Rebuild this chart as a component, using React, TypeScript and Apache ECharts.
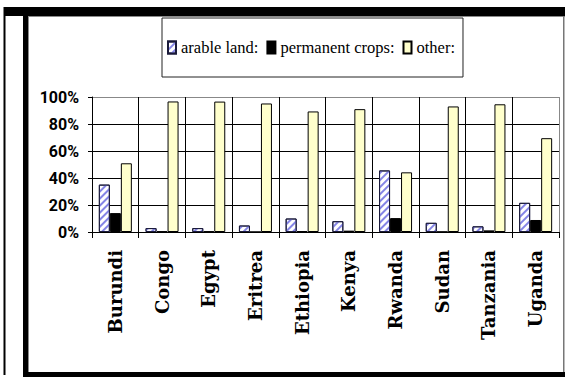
import React, { useEffect, useRef } from "react";
import * as echarts from "echarts";

// Land use shares by country (%)
const categories = ["Burundi", "Congo", "Egypt", "Eritrea", "Ethiopia", "Kenya", "Rwanda", "Sudan", "Tanzania", "Uganda"];
const arableLand = [35.1, 2.9, 2.9, 4.8, 10.0, 8.0, 45.6, 6.8, 4.2, 21.6];
const permanentCrops = [14.0, 0.5, 0.5, 0.03, 0.7, 1.0, 10.3, 0.2, 1.2, 8.9];
const otherLand = [50.9, 96.7, 96.6, 95.2, 89.3, 91.0, 44.2, 93.0, 94.6, 69.5];
const yTicks = [0, 20, 40, 60, 80, 100];

const W = 565;
const H = 377;

export default function App() {
  const ref = useRef<HTMLDivElement>(null);

  useEffect(() => {
    document.body.style.margin = "0";
    const chart = echarts.init(ref.current!, undefined, { renderer: "svg", width: W, height: H });

    const barBase = { type: "bar" as const, barWidth: 11, barGap: "0%" };

    chart.setOption({
      animation: false,
      backgroundColor: "#ffffff",
      legend: {
        left: 162,
        top: 18,
        padding: [21, 8, 21, 5],
        borderColor: "#222",
        borderWidth: 1,
        backgroundColor: "#fff",
        itemWidth: 8,
        itemHeight: 12,
        itemGap: 8,
        icon: "rect",
        textStyle: {
          fontFamily: '"Liberation Serif", "DejaVu Serif", serif',
          fontSize: 16.5,
          color: "#000",
        },
        data: ["arable land:", "permanent crops:", "other:"],
      },
      grid: { left: 92, right: 6, top: 97, bottom: 145, containLabel: false },
      xAxis: {
        type: "category",
        data: categories,
        boundaryGap: true,
        axisLine: { lineStyle: { color: "#000", width: 1 } },
        axisTick: { show: true, length: 6, lineStyle: { color: "#000" } },
        splitLine: {
          show: true,
          lineStyle: { color: ["#888", "#000", "#000", "#000", "#000", "#000", "#000", "#000", "#000", "#000", "#888"], width: 1 },
        },
        axisLabel: {
          rotate: 90,
          margin: 18,
          interval: 0,
          fontFamily: '"DejaVu Serif", "Liberation Serif", serif',
          fontWeight: "bold",
          fontSize: 18,
          color: "#000",
        },
      },
      yAxis: {
        type: "value",
        min: yTicks[0],
        max: yTicks[yTicks.length - 1],
        interval: 20,
        axisLine: { show: true, lineStyle: { color: "#000", width: 1 } },
        axisTick: { show: true, length: 4, lineStyle: { color: "#000" } },
        splitLine: {
          show: true,
          lineStyle: { color: ["#000", "#000", "#000", "#000", "#000", "#888"], width: 1 },
        },
        axisLabel: {
          margin: 13,
          formatter: "{value}%",
          fontFamily: "Roboto, sans-serif",
          fontWeight: "bold",
          fontSize: 16,
          color: "#000",
        },
      },
      series: [
        {
          ...barBase,
          name: "arable land:",
          data: arableLand,
          itemStyle: {
            color: "#ffffff",
            borderColor: "#1a1a3a",
            borderWidth: 1,
            decal: {
              symbol: "rect",
              symbolSize: 1,
              color: "#8585e6",
              dashArrayX: [1, 0],
              dashArrayY: [2, 3],
              rotation: -Math.PI / 4,
            },
          },
        },
        {
          ...barBase,
          name: "permanent crops:",
          data: permanentCrops,
          itemStyle: { color: "#000000", borderColor: "#000", borderWidth: 1 },
        },
        {
          ...barBase,
          name: "other:",
          data: otherLand,
          itemStyle: { color: "#ffffcc", borderColor: "#000", borderWidth: 1 },
        },
      ],
      graphic: [
        // outer frame
        { type: "rect", shape: { x: 4, y: 7, width: 561, height: 9 }, style: { fill: "#000" }, silent: true },
        { type: "rect", shape: { x: 3.5, y: 7, width: 2, height: 368 }, style: { fill: "#000" }, silent: true },
        { type: "rect", shape: { x: 23, y: 7, width: 5, height: 370 }, style: { fill: "#000" }, silent: true },
        { type: "rect", shape: { x: 23, y: 372, width: 542, height: 5 }, style: { fill: "#000" }, silent: true },
        { type: "rect", shape: { x: 28, y: 16, width: 1, height: 356 }, style: { fill: "#8a8a8a" }, silent: true },
        { type: "rect", shape: { x: 28, y: 16, width: 537, height: 1 }, style: { fill: "#8a8a8a" }, silent: true },
        { type: "rect", shape: { x: 563, y: 16, width: 1.5, height: 356 }, style: { fill: "#777" }, silent: true },
      ],
    });

    return () => chart.dispose();
  }, []);

  return <div ref={ref} style={{ position: "absolute", left: 0, top: 0, width: W, height: H }} />;
}
